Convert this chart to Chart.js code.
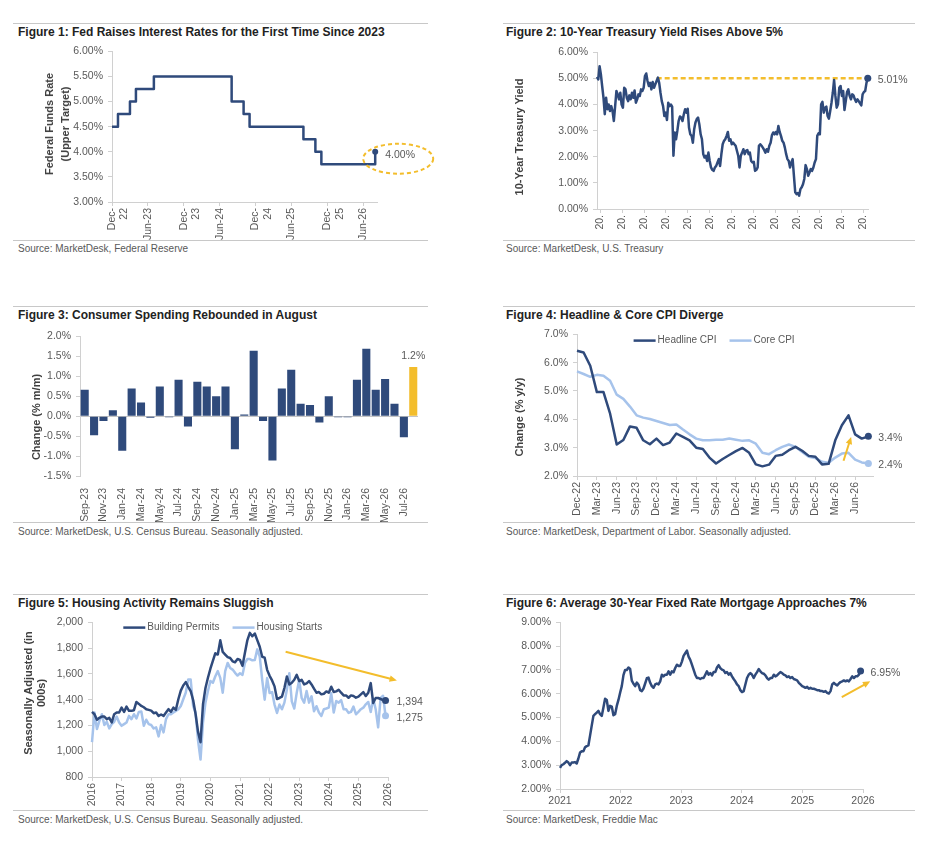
<!DOCTYPE html>
<html>
<head>
<meta charset="utf-8">
<script src="https://cdn.jsdelivr.net/npm/chart.js@4.4.1/dist/chart.umd.min.js"></script>
<style>
  body { margin: 0; background: #fff; width: 936px; height: 853px; position: relative; overflow: hidden;
         font-family: "Liberation Sans", Arial, sans-serif; }
  .rule { position: absolute; height: 0; border-top: 1px solid #c8c8c8; }
  .title { position: absolute; font-weight: bold; font-size: 12px; line-height: 14px; color: #222; white-space: nowrap; }
  .src { position: absolute; font-size: 10px; line-height: 12px; color: #595959; white-space: nowrap; }
  .ytitle { position: absolute; font-weight: bold; font-size: 11px; color: #404040; white-space: nowrap;
            text-align: center; transform: translate(-50%, -50%) rotate(-90deg); }
  canvas { position: absolute; }
</style>
</head>
<body>

<canvas id="c1" width="400" height="200" style="left:40px;top:40px"></canvas>
<canvas id="c2" width="430" height="199" style="left:500px;top:41px"></canvas>
<canvas id="c3" width="420" height="197" style="left:10px;top:325px"></canvas>
<canvas id="c4" width="450" height="199" style="left:480px;top:323px"></canvas>
<canvas id="c5" width="420" height="199" style="left:10px;top:611px"></canvas>
<canvas id="c6" width="450" height="199" style="left:480px;top:611px"></canvas>

<div class="rule" style="left:13px;top:23px;width:415px"></div>
<div class="rule" style="left:13px;top:240px;width:415px"></div>
<div class="rule" style="left:503px;top:23px;width:412px"></div>
<div class="rule" style="left:503px;top:240px;width:412px"></div>
<div class="rule" style="left:13px;top:306px;width:415px"></div>
<div class="rule" style="left:13px;top:522px;width:415px"></div>
<div class="rule" style="left:503px;top:306px;width:412px"></div>
<div class="rule" style="left:503px;top:522px;width:412px"></div>
<div class="rule" style="left:13px;top:594px;width:415px"></div>
<div class="rule" style="left:13px;top:810px;width:415px"></div>
<div class="rule" style="left:503px;top:594px;width:412px"></div>
<div class="rule" style="left:503px;top:810px;width:412px"></div>

<div class="title" style="left:18px;top:25px">Figure 1: Fed Raises Interest Rates for the First Time Since 2023</div>
<div class="title" style="left:506px;top:25px">Figure 2: 10-Year Treasury Yield Rises Above 5%</div>
<div class="title" style="left:18px;top:308px">Figure 3: Consumer Spending Rebounded in August</div>
<div class="title" style="left:506px;top:308px">Figure 4: Headline &amp; Core CPI Diverge</div>
<div class="title" style="left:18px;top:596px">Figure 5: Housing Activity Remains Sluggish</div>
<div class="title" style="left:506px;top:596px">Figure 6: Average 30-Year Fixed Rate Mortgage Approaches 7%</div>

<div class="src" style="left:18px;top:243px">Source: MarketDesk, Federal Reserve</div>
<div class="src" style="left:506px;top:243px">Source: MarketDesk, U.S. Treasury</div>
<div class="src" style="left:18px;top:526px">Source: MarketDesk, U.S. Census Bureau. Seasonally adjusted.</div>
<div class="src" style="left:506px;top:526px">Source: MarketDesk, Department of Labor. Seasonally adjusted.</div>
<div class="src" style="left:18px;top:814px">Source: MarketDesk, U.S. Census Bureau. Seasonally adjusted.</div>
<div class="src" style="left:506px;top:814px">Source: MarketDesk, Freddie Mac</div>

<div class="ytitle" style="left:57px;top:124px;line-height:16px">Federal Funds Rate<br>(Upper Target)</div>
<div class="ytitle" style="left:519px;top:137px">10-Year Treasury Yield</div>
<div class="ytitle" style="left:36px;top:417px">Change (% m/m)</div>
<div class="ytitle" style="left:519px;top:417px">Change (% y/y)</div>
<div class="ytitle" style="left:35px;top:693px;line-height:13px">Seasonally Adjusted (in<br>000s)</div>

<script>
// ---------- Figure 1: Fed funds upper target, monthly Dec-22 .. Aug-26
const fedRate = [4.50, 4.75, 4.75, 5.00, 5.25, 5.25, 5.25,
  5.50, 5.50, 5.50, 5.50, 5.50, 5.50, 5.50, 5.50, 5.50, 5.50, 5.50, 5.50, 5.50,
  5.00, 5.00, 4.75,
  4.50, 4.50, 4.50, 4.50, 4.50, 4.50, 4.50, 4.50, 4.50,
  4.25, 4.25, 4.00,
  3.75, 3.75, 3.75, 3.75, 3.75, 3.75, 3.75, 3.75, 3.75,
  4.00];
const fedTickLabels = [['Dec-', '22'], 'Jun-23', ['Dec-', '23'], 'Jun-24', ['Dec-', '24'], 'Jun-25', ['Dec-', '25'], 'Jun-26'];

// ---------- Figure 2: 10-year Treasury yield (evenly spaced readings, late 2001 .. spring 2026)
const tsyStart = 2001.7;
const tsyEnd = 2026.43;
const tsyDashFrom = 2007.15;
const tsyYield = [
  5.06, 4.96, 5.47, 5.15, 4.70, 4.26, 3.63, 4.26, 3.82, 4.00,
  3.75, 3.94, 3.75, 3.37, 3.94, 4.52, 4.39, 4.20, 4.45, 4.00,
  3.88, 4.64, 4.58, 4.26, 4.13, 4.35, 4.20, 4.45, 4.26, 4.54,
  4.07, 4.20, 4.39, 4.33, 4.58, 4.52, 4.64, 5.09, 5.19, 4.90,
  4.71, 4.83, 4.58, 4.86, 4.64, 4.77, 4.90, 5.03, 4.83, 4.45,
  4.13, 3.94, 3.56, 3.69, 3.41, 4.07, 3.94, 4.00, 3.92, 2.04,
  2.93, 2.67, 2.99, 3.37, 3.54, 3.50, 3.37, 3.63, 3.82, 3.69,
  3.84, 3.12, 2.86, 2.80, 2.54, 3.05, 3.31, 3.44, 3.50, 3.24,
  2.86, 2.67, 2.10, 1.97, 2.04, 1.84, 2.16, 1.84, 1.59, 1.50,
  1.46, 1.59, 1.65, 1.78, 1.91, 1.65, 2.10, 2.48, 2.61,
  2.67, 2.80, 2.95, 2.61, 2.67, 2.48, 2.54, 2.48, 2.42, 2.23,
  2.04, 1.59, 2.04, 2.16, 2.29, 2.10, 2.23, 2.26, 2.10, 2.16,
  1.84, 1.78, 1.81, 1.46, 1.50, 1.59, 2.42, 2.48, 2.42, 2.35,
  2.26, 2.16, 2.29, 2.19, 2.42, 2.54, 2.82, 2.93, 2.86, 2.95,
  2.86, 3.18, 2.95, 2.80, 2.61, 2.54, 2.35, 2.10, 1.91, 1.84,
  1.59, 1.78, 1.91, 1.27, 0.64, 0.57, 0.61, 0.51, 0.76, 0.83,
  0.95, 1.15, 1.68, 1.53, 1.27, 1.40, 1.53, 1.46, 1.59, 1.78,
  1.91, 2.80, 2.90, 2.86, 4.01, 4.10, 3.69, 3.88, 3.92, 3.56,
  3.46, 3.75, 4.07, 4.45, 4.94, 4.33, 3.88, 4.01, 4.64, 4.71,
  4.33, 4.52, 3.79, 4.13, 4.48, 4.58, 4.33, 4.20, 4.39, 4.35,
  4.20, 4.10, 4.20, 4.13, 4.05, 3.97, 4.39, 4.48, 4.52, 4.83,
  5.01];
const tsyTickYears = [2002, 2004, 2006, 2008, 2010, 2012, 2014, 2016, 2018, 2020, 2022, 2024, 2026];
const tsyTickLabels = tsyTickYears.map(() => '20.');

// ---------- Figure 3: consumer spending, % m/m
const spendMonths = ['Sep-23', 'Oct-23', 'Nov-23', 'Dec-23', 'Jan-24', 'Feb-24', 'Mar-24', 'Apr-24', 'May-24',
  'Jun-24', 'Jul-24', 'Aug-24', 'Sep-24', 'Oct-24', 'Nov-24', 'Dec-24', 'Jan-25', 'Feb-25', 'Mar-25', 'Apr-25',
  'May-25', 'Jun-25', 'Jul-25', 'Aug-25', 'Sep-25', 'Oct-25', 'Nov-25', 'Dec-25', 'Jan-26', 'Feb-26', 'Mar-26',
  'Apr-26', 'May-26', 'Jun-26', 'Jul-26', 'Aug-26'];
const spendChange = [0.66, -0.48, -0.12, 0.15, -0.87, 0.69, 0.34, -0.04, 0.74, -0.03, 0.91, -0.26,
  0.86, 0.74, 0.50, 0.74, -0.83, 0.04, 1.64, -0.12, -1.11, 0.69, 1.16, 0.31,
  0.28, -0.16, 0.50, -0.03, -0.03, 0.91, 1.69, 0.66, 0.93, 0.31, -0.53, 1.23];

// ---------- Figure 4: CPI, % y/y, monthly Dec-22 .. Aug-26
const headlineCpi = [6.42, 6.36, 5.89, 4.96, 4.96, 4.20, 3.11, 3.27, 3.75, 3.70, 3.26, 3.12, 3.32, 3.09, 3.18,
  3.50, 3.38, 3.26, 3.00, 2.95, 2.65, 2.44, 2.60, 2.74, 2.88, 2.99, 2.82, 2.41, 2.34, 2.40,
  2.71, 2.75, 2.91, 3.03, 2.89, 2.71, 2.68, 2.41, 2.43, 3.26, 3.79, 4.14, 3.47, 3.32, 3.40];
const coreCpi = [5.69, 5.60, 5.50, 5.57, 5.54, 5.36, 4.87, 4.72, 4.45, 4.14, 4.06, 4.01, 3.94, 3.87, 3.80,
  3.82, 3.64, 3.47, 3.32, 3.26, 3.26, 3.28, 3.28, 3.32, 3.28, 3.24, 3.26, 3.14, 2.82, 2.77,
  2.91, 3.03, 3.11, 3.03, 2.85, 2.68, 2.63, 2.50, 2.47, 2.65, 2.79, 2.82, 2.58, 2.48, 2.44];
const cpiTickLabels = ['Dec-22', 'Mar-23', 'Jun-23', 'Sep-23', 'Dec-23', 'Mar-24', 'Jun-24', 'Sep-24',
  'Dec-24', 'Mar-25', 'Jun-25', 'Sep-25', 'Dec-25', 'Mar-26', 'Jun-26'];
const cpiArrow = [[40.25, 2.54], [41.4, 3.38]];

// ---------- Figure 5: housing, thousands SAAR, monthly from 2016
const buildingPermits = [1305, 1287, 1244, 1259, 1269, 1269, 1249, 1259, 1223, 1287,
  1300, 1300, 1338, 1305, 1346, 1313, 1313, 1318, 1382, 1367,
  1351, 1341, 1326, 1321, 1315, 1295, 1300, 1274, 1285, 1274,
  1300, 1326, 1305, 1338, 1321, 1403, 1470, 1510, 1536, 1500,
  1467, 1397, 1287, 1150, 1070, 1364, 1490, 1570, 1640, 1700,
  1760, 1750, 1860, 1770, 1750, 1730, 1723, 1697, 1690, 1715,
  1708, 1662, 1764, 1862, 1918, 1892, 1913, 1862, 1810, 1733,
  1726, 1631, 1585, 1549, 1503, 1405, 1413, 1423, 1490, 1580,
  1518, 1531, 1554, 1592, 1544, 1554, 1518, 1526, 1544, 1518,
  1485, 1454, 1459, 1441, 1446, 1464, 1454, 1500, 1459, 1464,
  1477, 1454, 1433, 1433, 1415, 1433, 1428, 1415, 1423, 1441,
  1459, 1428, 1454, 1528, 1374, 1413, 1413, 1405, 1397, 1394];
const housingStarts = [1070, 1300, 1172, 1236, 1287, 1203, 1228, 1177, 1210, 1228,
  1269, 1223, 1197, 1210, 1223, 1274, 1249, 1287, 1254, 1305,
  1308, 1197, 1244, 1210, 1203, 1177, 1185, 1115, 1203, 1146,
  1249, 1287, 1287, 1300, 1313, 1326, 1351, 1403, 1454, 1556,
  1556, 1351, 1300, 1082, 935, 1223, 1377, 1467, 1544, 1531,
  1582, 1621, 1569, 1454, 1621, 1685, 1646, 1633, 1608, 1587,
  1605, 1592, 1685, 1715, 1715, 1705, 1708, 1790, 1733, 1554,
  1400, 1567, 1451, 1459, 1362, 1297, 1362, 1326, 1377, 1477,
  1605, 1387, 1331, 1454, 1554, 1413, 1377, 1467, 1377, 1426,
  1310, 1349, 1300, 1274, 1326, 1331, 1338, 1449, 1300, 1390,
  1377, 1397, 1326, 1326, 1297, 1305, 1346, 1287, 1305, 1326,
  1338, 1364, 1382, 1305, 1408, 1326, 1185, 1413, 1430, 1275];
const housingTickYears = ['2016', '2017', '2018', '2019', '2020', '2021', '2022', '2023', '2024', '2025', '2026'];
const housingArrow = [[78.5, 1772], [123.6, 1549]];

// ---------- Figure 6: 30-year fixed mortgage rate (evenly spaced readings, 2021 .. end-2025)
const mtgStart = 2021.0;
const mtgEnd = 2025.96;
const mtgRate = [
  2.89, 3.00, 3.04, 3.10, 3.17, 3.11, 3.00, 3.11, 3.11, 3.13,
  3.07, 3.28, 3.53, 3.58, 3.58, 3.75, 3.80, 3.83, 4.24, 4.66,
  5.07, 5.14, 5.21, 5.28, 5.14, 5.07, 5.42, 5.79, 5.74, 5.28,
  5.49, 5.46, 5.10, 5.14, 5.49, 5.74, 6.04, 6.32, 6.78, 7.00,
  7.00, 7.10, 7.04, 6.55, 6.42, 6.32, 6.47, 6.38, 6.15, 6.11,
  6.22, 6.43, 6.65, 6.68, 6.46, 6.32, 6.25, 6.39, 6.43, 6.39,
  6.52, 6.80, 6.73, 6.80, 6.80, 6.94, 6.80, 6.94, 6.90, 7.08,
  7.22, 7.17, 7.17, 7.35, 7.59, 7.70, 7.81, 7.56, 7.42, 7.22,
  7.01, 6.80, 6.66, 6.66, 6.62, 6.66, 6.66, 6.80, 6.94, 6.80,
  6.87, 6.77, 6.91, 6.91, 7.10, 7.20, 7.08, 7.01, 6.98, 6.87,
  6.91, 6.80, 6.87, 6.73, 6.62, 6.52, 6.39, 6.32, 6.15, 6.07,
  6.11, 6.39, 6.66, 6.80, 6.87, 6.80, 6.66, 6.80, 6.91, 7.04,
  6.94, 6.87, 6.84, 6.77, 6.66, 6.59, 6.66, 6.66, 6.80, 6.73,
  6.77, 6.84, 6.91, 6.87, 6.80, 6.77, 6.70, 6.73, 6.66, 6.70,
  6.62, 6.59, 6.56, 6.46, 6.39, 6.32, 6.29, 6.25, 6.29, 6.21,
  6.25, 6.21, 6.21, 6.18, 6.15, 6.15, 6.11, 6.11, 6.08, 6.11,
  6.04, 6.01, 6.11, 6.39, 6.46, 6.39, 6.35, 6.43, 6.49, 6.52,
  6.56, 6.52, 6.56, 6.52, 6.62, 6.73, 6.66, 6.73, 6.73, 6.80,
  6.95];
const mtgTickYears = [2021, 2022, 2023, 2024, 2025, 2026];
const mtgArrow = [[2025.65, 5.86], [2026.12, 6.52]];

// ============================================================
// styling + helpers
// ============================================================
const NAVY = '#2f4a7b';
const LIGHT = '#a6c3eb';
const GOLD = '#f3bd2c';
const AXIS = '#d0d0d0';
const TXT = '#595959';
const FONT = '"Liberation Sans", Arial, sans-serif';

Chart.defaults.font.family = FONT;
Chart.defaults.font.size = 10.5;
Chart.defaults.color = TXT;

function baseOptions(padding, scales) {
  return {
    responsive: false,
    animation: false,
    events: [],
    layout: { padding },
    plugins: { legend: { display: false }, tooltip: { enabled: false } },
    scales,
  };
}

function valueAxis(min, max, step, fmt, width, grid) {
  return {
    min, max,
    afterFit: (s) => { s.width = width; },
    border: { color: AXIS },
    grid: grid || { drawOnChartArea: false, tickLength: 4, color: AXIS },
    ticks: { stepSize: step, padding: 5, callback: fmt },
  };
}

function timeAxis(min, max, tickValues, tickLabels, height, rotation) {
  return {
    type: 'linear', min, max,
    afterBuildTicks: (s) => { s.ticks = tickValues.map((v) => ({ value: v })); },
    afterFit: (s) => { s.height = height; },
    border: { color: AXIS },
    grid: { drawOnChartArea: false, tickLength: 4, color: AXIS },
    ticks: { autoSkip: false, minRotation: rotation, maxRotation: rotation, padding: 2,
             callback: (v, i) => tickLabels[i] },
  };
}

function toPoints(xs, ys) {
  return ys.map((y, i) => ({ x: xs[i], y }));
}

// even time index for series read at a steady pace between two dates
function evenSpacing(start, end, n) {
  return Array.from({ length: n }, (_, i) => start + (i * (end - start)) / (n - 1));
}

function lineSet(label, xs, ys, color, width, dot) {
  return {
    label, data: toPoints(xs, ys), borderColor: color, backgroundColor: color,
    borderWidth: width, tension: 0, clip: false, borderJoinStyle: 'round',
    pointRadius: (c) => (c.dataIndex === ys.length - 1 ? dot : 0),
    pointBackgroundColor: color, pointBorderWidth: 0,
  };
}

function lastPoint(chart, dsIndex) {
  const els = chart.getDatasetMeta(dsIndex).data;
  return els[els.length - 1];
}

function valueLabel(ctx, text, x, y, align) {
  ctx.save();
  ctx.font = '10.5px ' + FONT;
  ctx.fillStyle = TXT;
  ctx.textAlign = align || 'left';
  ctx.textBaseline = 'middle';
  ctx.fillText(text, x, y);
  ctx.restore();
}

function goldArrow(chart, arrow) {
  const { ctx, scales } = chart;
  const x1 = scales.x.getPixelForValue(arrow[0][0]), y1 = scales.y.getPixelForValue(arrow[0][1]);
  const x2 = scales.x.getPixelForValue(arrow[1][0]), y2 = scales.y.getPixelForValue(arrow[1][1]);
  const ang = Math.atan2(y2 - y1, x2 - x1);
  const head = 8;
  ctx.save();
  ctx.strokeStyle = GOLD;
  ctx.fillStyle = GOLD;
  ctx.lineWidth = 2;
  ctx.beginPath();
  ctx.moveTo(x1, y1);
  ctx.lineTo(x2 - head * 0.7 * Math.cos(ang), y2 - head * 0.7 * Math.sin(ang));
  ctx.stroke();
  ctx.beginPath();
  ctx.moveTo(x2, y2);
  ctx.lineTo(x2 - head * Math.cos(ang - 0.42), y2 - head * Math.sin(ang - 0.42));
  ctx.lineTo(x2 - head * Math.cos(ang + 0.42), y2 - head * Math.sin(ang + 0.42));
  ctx.closePath();
  ctx.fill();
  ctx.restore();
}

// legend drawn inside the plot: short line sample + label, laid out left to right
function lineLegend(chart, offsetX, offsetY) {
  const { ctx, chartArea } = chart;
  let x = chartArea.left + offsetX;
  const y = chartArea.top + offsetY;
  ctx.save();
  ctx.font = '10px ' + FONT;
  ctx.textBaseline = 'middle';
  chart.data.datasets.forEach((ds) => {
    ctx.strokeStyle = ds.borderColor;
    ctx.lineWidth = 2.5;
    ctx.beginPath();
    ctx.moveTo(x, y);
    ctx.lineTo(x + 22, y);
    ctx.stroke();
    ctx.fillStyle = TXT;
    ctx.fillText(ds.label, x + 24, y);
    x += 24 + ctx.measureText(ds.label).width + 13;
  });
  ctx.restore();
}

const pct2 = (v) => v.toFixed(2) + '%';
const pct1 = (v) => v.toFixed(1) + '%';

// ============================================================
// Figure 1
// ============================================================
const fedX = fedRate.map((_, i) => i);
new Chart(document.getElementById('c1'), {
  type: 'line',
  data: { datasets: [Object.assign(lineSet('Fed funds', fedX, fedRate, NAVY, 2.5, 3), { stepped: true })] },
  options: baseOptions({ top: 10, right: 63 }, {
    x: timeAxis(0, 44.3, fedTickLabels.map((_, i) => i * 6), fedTickLabels, 38, 90),
    y: valueAxis(3, 6, 0.5, pct2, 72),
  }),
  plugins: [{
    id: 'fedNote',
    afterDatasetsDraw(chart) {
      const p = lastPoint(chart, 0);
      const ctx = chart.ctx;
      valueLabel(ctx, pct2(fedRate[fedRate.length - 1]), p.x + 10, p.y + 3);
      ctx.save();
      ctx.strokeStyle = GOLD;
      ctx.lineWidth = 2;
      ctx.setLineDash([4, 3]);
      ctx.beginPath();
      ctx.ellipse(p.x + 23, p.y + 7, 35, 15, 0, 0, Math.PI * 2);
      ctx.stroke();
      ctx.restore();
    },
  }],
});

// ============================================================
// Figure 2
// ============================================================
const tsyX = evenSpacing(tsyStart, tsyEnd, tsyYield.length);
new Chart(document.getElementById('c2'), {
  type: 'line',
  data: { datasets: [lineSet('10-Year Treasury Yield', tsyX, tsyYield, NAVY, 2.5, 3.5)] },
  options: baseOptions({ top: 10, right: 62 }, {
    x: timeAxis(tsyStart, 2026.45, tsyTickYears, tsyTickLabels, 31, 90),
    y: valueAxis(0, 6, 1, pct2, 97),
  }),
  plugins: [{
    id: 'tsyNote',
    beforeDatasetsDraw(chart) {
      const { ctx, scales } = chart;
      const last = tsyYield[tsyYield.length - 1];
      const y = scales.y.getPixelForValue(last);
      ctx.save();
      ctx.strokeStyle = GOLD;
      ctx.lineWidth = 2.5;
      ctx.setLineDash([5, 3]);
      ctx.beginPath();
      ctx.moveTo(scales.x.getPixelForValue(tsyDashFrom), y);
      ctx.lineTo(scales.x.getPixelForValue(tsyX[tsyX.length - 1]), y);
      ctx.stroke();
      ctx.restore();
    },
    afterDatasetsDraw(chart) {
      const p = lastPoint(chart, 0);
      valueLabel(chart.ctx, pct2(tsyYield[tsyYield.length - 1]), p.x + 10, p.y + 2);
    },
  }],
});

// ============================================================
// Figure 3
// ============================================================
new Chart(document.getElementById('c3'), {
  type: 'bar',
  data: {
    labels: spendMonths,
    datasets: [{
      data: spendChange,
      backgroundColor: spendChange.map((_, i) => (i === spendChange.length - 1 ? GOLD : NAVY)),
      barPercentage: 0.86,
      categoryPercentage: 1.0,
    }],
  },
  options: baseOptions({ top: 10, right: 10 }, {
    x: {
      afterFit: (s) => { s.height = 46; },
      border: { display: false },
      grid: { display: false },
      ticks: { autoSkip: false, minRotation: 90, maxRotation: 90, padding: 4,
               callback: (v, i) => (i % 2 === 0 ? spendMonths[i] : '') },
    },
    y: valueAxis(-1.5, 2, 0.5, pct1, 70, {
      drawOnChartArea: true, tickLength: 4, tickColor: AXIS,
      color: (c) => (c.tick && c.tick.value === 0 ? '#c4c4c4' : 'rgba(0,0,0,0)'),
    }),
  }),
  plugins: [{
    id: 'spendNote',
    afterDatasetsDraw(chart) {
      const bar = lastPoint(chart, 0);
      valueLabel(chart.ctx, pct1(spendChange[spendChange.length - 1]), bar.x, bar.y - 11, 'center');
    },
  }],
});

// ============================================================
// Figure 4
// ============================================================
const cpiX = headlineCpi.map((_, i) => i);
new Chart(document.getElementById('c4'), {
  type: 'line',
  data: {
    datasets: [
      lineSet('Headline CPI', cpiX, headlineCpi, NAVY, 2.5, 3.5),
      lineSet('Core CPI', cpiX, coreCpi, LIGHT, 2.5, 3.5),
    ],
  },
  options: baseOptions({ top: 10, right: 57 }, {
    x: timeAxis(0, 44.7, cpiTickLabels.map((_, i) => i * 3), cpiTickLabels, 46, 90),
    y: valueAxis(2, 7, 1, pct1, 97),
  }),
  plugins: [{
    id: 'cpiNote',
    afterDatasetsDraw(chart) {
      const h = lastPoint(chart, 0), c = lastPoint(chart, 1);
      valueLabel(chart.ctx, pct1(headlineCpi[headlineCpi.length - 1]), h.x + 10, h.y + 2);
      valueLabel(chart.ctx, pct1(coreCpi[coreCpi.length - 1]), c.x + 10, c.y + 2);
      goldArrow(chart, cpiArrow);
      lineLegend(chart, 56.6, 6.3);
    },
  }],
});

// ============================================================
// Figure 5
// ============================================================
const housingX = buildingPermits.map((_, i) => i);
new Chart(document.getElementById('c5'), {
  type: 'line',
  data: {
    datasets: [
      lineSet('Building Permits', housingX, buildingPermits, NAVY, 2.5, 3.5),
      lineSet('Housing Starts', housingX, housingStarts, LIGHT, 2.5, 3.5),
    ],
  },
  options: baseOptions({ top: 10, right: 42 }, {
    x: timeAxis(0, 120, housingTickYears.map((_, i) => i * 12), housingTickYears, 33, 90),
    y: valueAxis(800, 2000, 200, (v) => v.toLocaleString('en-US'), 82),
  }),
  plugins: [{
    id: 'housingNote',
    afterDatasetsDraw(chart) {
      const b = lastPoint(chart, 0), s = lastPoint(chart, 1);
      const fmt = (v) => v.toLocaleString('en-US');
      valueLabel(chart.ctx, fmt(buildingPermits[buildingPermits.length - 1]), b.x + 11, b.y + 2);
      valueLabel(chart.ctx, fmt(housingStarts[housingStarts.length - 1]), s.x + 11, s.y + 2);
      goldArrow(chart, housingArrow);
      lineLegend(chart, 31.3, 5.3);
    },
  }],
});

// ============================================================
// Figure 6
// ============================================================
const mtgX = evenSpacing(mtgStart, mtgEnd, mtgRate.length);
new Chart(document.getElementById('c6'), {
  type: 'line',
  data: { datasets: [lineSet('30-Year Fixed', mtgX, mtgRate, NAVY, 2.5, 3.5)] },
  options: baseOptions({ top: 10, right: 67 }, {
    x: timeAxis(2021, 2026, mtgTickYears, mtgTickYears.map(String), 21, 0),
    y: valueAxis(2, 9, 1, pct2, 80),
  }),
  plugins: [{
    id: 'mtgNote',
    afterDatasetsDraw(chart) {
      const p = lastPoint(chart, 0);
      valueLabel(chart.ctx, pct2(mtgRate[mtgRate.length - 1]), p.x + 10, p.y + 2);
      goldArrow(chart, mtgArrow);
    },
  }],
});
</script>
</body>
</html>
